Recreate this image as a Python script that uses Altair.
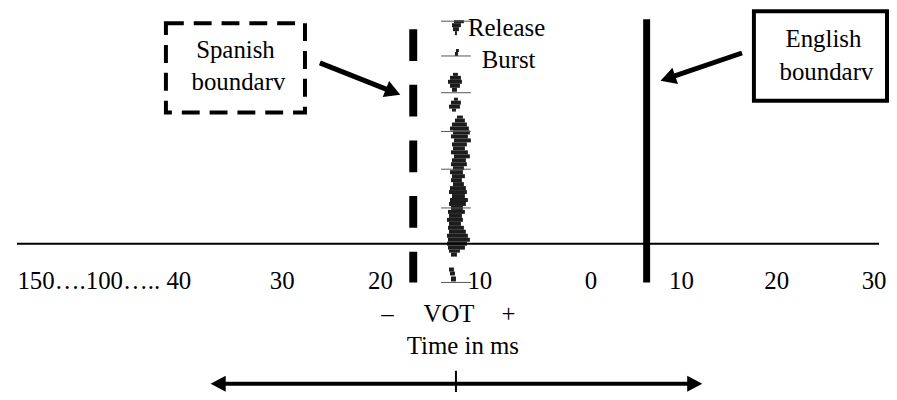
import altair as alt
import pandas as pd
import math

# All positions are in page pixels of the diagram (x to the right, y downwards)

# horizontal time axis
axis_x = [17, 885]
axis_y = 244

# tick labels along the axis
tick_labels = ["150….100….. 40", "30", "20", "10", "0", "10", "20", "30"]
tick_label_x = [105, 284, 383, 483, 595, 686, 782, 880]
tick_label_y = 290

# category boundaries
spanish_x = 416
english_x = 651
boundary_y = [28, 283]
english_y = [18, 283]

# label boxes  (x0, x1, y0, y1)
spanish_box = [167, 307, 22, 112]
english_box = [759, 893, 10, 100]

box_text = ["Spanish", "boundarv", "English", "boundarv"]
box_text_x = [237, 240, 829, 832]
box_text_y = [57, 89, 46, 79]

# pointer arrows: start (x, y), tip (x, y), head angle
arrow_start_x = [322, 747]
arrow_start_y = [62, 52]
arrow_tip_x = [403, 665]
arrow_tip_y = [94, 80]
arrow_angle = [111.6, 251.1]

# release burst (spectrogram strip): y0, y1, x_left, x_right
burst_y0 = [19, 22, 26, 30, 48, 51, 72, 75, 79, 83, 87, 97, 100, 104, 108, 115, 118, 122, 126,
            130, 134, 138, 142, 146, 150, 154, 158, 162, 166, 170, 174, 178, 182, 186, 190,
            194, 198, 202, 206, 210, 214, 218, 222, 226, 230, 234, 238, 242, 246, 250, 253,
            268, 272, 277]
burst_y1 = [22, 26, 30, 34, 51, 55, 75, 79, 83, 87, 91, 100, 104, 108, 111, 118, 122, 126, 130,
            134, 138, 142, 146, 150, 154, 158, 162, 166, 170, 174, 178, 182, 186, 190, 194,
            198, 202, 206, 210, 214, 218, 222, 226, 230, 234, 238, 242, 246, 250, 253, 257,
            272, 276, 282]
burst_xl = [457, 455, 456, 458, 459, 458, 456, 453, 451, 453, 455, 457, 454, 452, 455, 460, 458,
            455, 453, 456, 454, 457, 455, 456, 454, 457, 455, 454, 456, 453, 455, 454, 456, 453,
            452, 455, 453, 452, 454, 451, 452, 450, 452, 451, 452, 450, 451, 450, 451, 452, 454,
            452, 453, 454]
burst_xr = [467, 464, 462, 460, 462, 461, 461, 464, 465, 463, 460, 461, 464, 463, 459, 466, 468,
            470, 472, 473, 471, 474, 470, 468, 471, 473, 469, 470, 467, 466, 468, 465, 467, 469,
            470, 468, 471, 469, 466, 468, 465, 466, 464, 467, 469, 471, 473, 470, 468, 463, 460,
            457, 458, 459]
burst_tick_y = [20, 55, 92, 131, 169, 208, 283]
burst_tick_x = [444, 474]

burst_text = ["Release", "Burst"]
burst_text_x = [510, 512]
burst_text_y = [35, 67]

# VOT labels
vot_text = ["–", "VOT", "+", "Time in ms"]
vot_text_x = [390, 452, 512, 466]
vot_text_y = [323, 323, 323, 355]

# bottom double arrow
span_y = 385
span_tip_x = [212, 707]
span_angle = [270, 90]
span_center_x = 459
span_center_y = [372, 400]

W, H = 887, 384
xs = alt.Scale(domain=[8, 8 + W], nice=False, zero=False)
ys = alt.Scale(domain=[8, 8 + H], reverse=True, nice=False, zero=False)

def X(f):
    return alt.X(f, type="quantitative", scale=xs, axis=None)

def Y(f):
    return alt.Y(f, type="quantitative", scale=ys, axis=None)

FONT = "'Liberation Serif', 'Times New Roman', Times, serif"
FS = 25

def text_layer(df):
    return alt.Chart(df).mark_text(
        font=FONT, fontSize=FS, align="center", baseline="alphabetic", color="black").encode(
        x=X("x"), y=Y("y"), text="t:N")

# axis line
axis_df = pd.DataFrame({"x": [axis_x[0]], "x2": [axis_x[1]], "y": [axis_y]})
axis_layer = alt.Chart(axis_df).mark_rule(color="black", strokeWidth=2).encode(
    x=X("x"), x2="x2", y=Y("y"))

ticklab_layer = text_layer(pd.DataFrame(
    {"t": tick_labels, "x": tick_label_x, "y": [tick_label_y] * len(tick_labels)}))

sp_df = pd.DataFrame({"x": [spanish_x], "y": [boundary_y[0]], "y2": [boundary_y[1]]})
sp_layer = alt.Chart(sp_df).mark_rule(color="black", strokeWidth=8, strokeDash=[32, 24]).encode(
    x=X("x"), y=Y("y"), y2="y2")

en_df = pd.DataFrame({"x": [english_x], "y": [english_y[0]], "y2": [english_y[1]]})
en_layer = alt.Chart(en_df).mark_rule(color="black", strokeWidth=7).encode(
    x=X("x"), y=Y("y"), y2="y2")

spbox_df = pd.DataFrame({"x": [spanish_box[0]], "x2": [spanish_box[1]],
                         "y": [spanish_box[2]], "y2": [spanish_box[3]]})
spbox_layer = alt.Chart(spbox_df).mark_rect(
    fillOpacity=0, stroke="black", strokeWidth=4, strokeDash=[18, 10]).encode(
    x=X("x"), x2="x2", y=Y("y"), y2="y2")

enbox_df = pd.DataFrame({"x": [english_box[0]], "x2": [english_box[1]],
                         "y": [english_box[2]], "y2": [english_box[3]]})
enbox_layer = alt.Chart(enbox_df).mark_rect(
    fillOpacity=0, stroke="black", strokeWidth=4).encode(
    x=X("x"), x2="x2", y=Y("y"), y2="y2")

boxtext_layer = text_layer(pd.DataFrame({"t": box_text, "x": box_text_x, "y": box_text_y}))

# arrow shafts end a bit before the tip
sx2, sy2 = [], []
for x0, y0, x1, y1 in zip(arrow_start_x, arrow_start_y, arrow_tip_x, arrow_tip_y):
    d = math.hypot(x1 - x0, y1 - y0)
    sx2.append(x1 - (x1 - x0) / d * 12)
    sy2.append(y1 - (y1 - y0) / d * 12)
shaft_df = pd.DataFrame({"x": arrow_start_x, "y": arrow_start_y, "x2": sx2, "y2": sy2})
shaft_layer = alt.Chart(shaft_df).mark_rule(color="black", strokeWidth=5).encode(
    x=X("x"), y=Y("y"), x2="x2", y2="y2")

head_df = pd.DataFrame({"x": arrow_tip_x, "y": arrow_tip_y, "a": arrow_angle})
head_layer = alt.Chart(head_df).mark_point(
    shape="M0,0L-1,1.8L1,1.8Z", filled=True, color="black", opacity=1, size=300,
    strokeWidth=0).encode(
    x=X("x"), y=Y("y"), angle=alt.Angle("a:Q", scale=None))

burst_df = pd.DataFrame({"x": burst_xl, "x2": burst_xr, "y": burst_y0, "y2": burst_y1})
burst_layer = alt.Chart(burst_df).mark_rect(color="#0a0a0a", opacity=0.92).encode(
    x=X("x"), x2="x2", y=Y("y"), y2="y2")

btick_df = pd.DataFrame({"x": [burst_tick_x[0]] * len(burst_tick_y),
                         "x2": [burst_tick_x[1]] * len(burst_tick_y), "y": burst_tick_y})
btick_layer = alt.Chart(btick_df).mark_rule(color="#555555", strokeWidth=1).encode(
    x=X("x"), x2="x2", y=Y("y"))

btext_layer = text_layer(pd.DataFrame({"t": burst_text, "x": burst_text_x, "y": burst_text_y}))
vot_layer = text_layer(pd.DataFrame({"t": vot_text, "x": vot_text_x, "y": vot_text_y}))

span_df = pd.DataFrame({"x": [span_tip_x[0] + 12], "x2": [span_tip_x[1] - 12], "y": [span_y]})
span_layer = alt.Chart(span_df).mark_rule(color="black", strokeWidth=4).encode(
    x=X("x"), x2="x2", y=Y("y"))

spanhead_df = pd.DataFrame({"x": span_tip_x, "y": [span_y, span_y], "a": span_angle})
spanhead_layer = alt.Chart(spanhead_df).mark_point(
    shape="M0,0L-1,1.9L1,1.9Z", filled=True, color="black", opacity=1, size=256,
    strokeWidth=0).encode(
    x=X("x"), y=Y("y"), angle=alt.Angle("a:Q", scale=None))

center_df = pd.DataFrame({"x": [span_center_x], "y": [span_center_y[0]], "y2": [span_center_y[1]]})
center_layer = alt.Chart(center_df).mark_rule(color="black", strokeWidth=2).encode(
    x=X("x"), y=Y("y"), y2="y2")

chart = alt.layer(
    axis_layer, burst_layer, btick_layer, sp_layer, en_layer, spbox_layer, enbox_layer,
    boxtext_layer, shaft_layer, head_layer, ticklab_layer, btext_layer, vot_layer,
    span_layer, spanhead_layer, center_layer,
).properties(width=W, height=H, padding=0, autosize="none", background="white"
).configure_view(strokeWidth=0)

chart.save("out.html", embed_options={"renderer": "svg", "actions": False})
